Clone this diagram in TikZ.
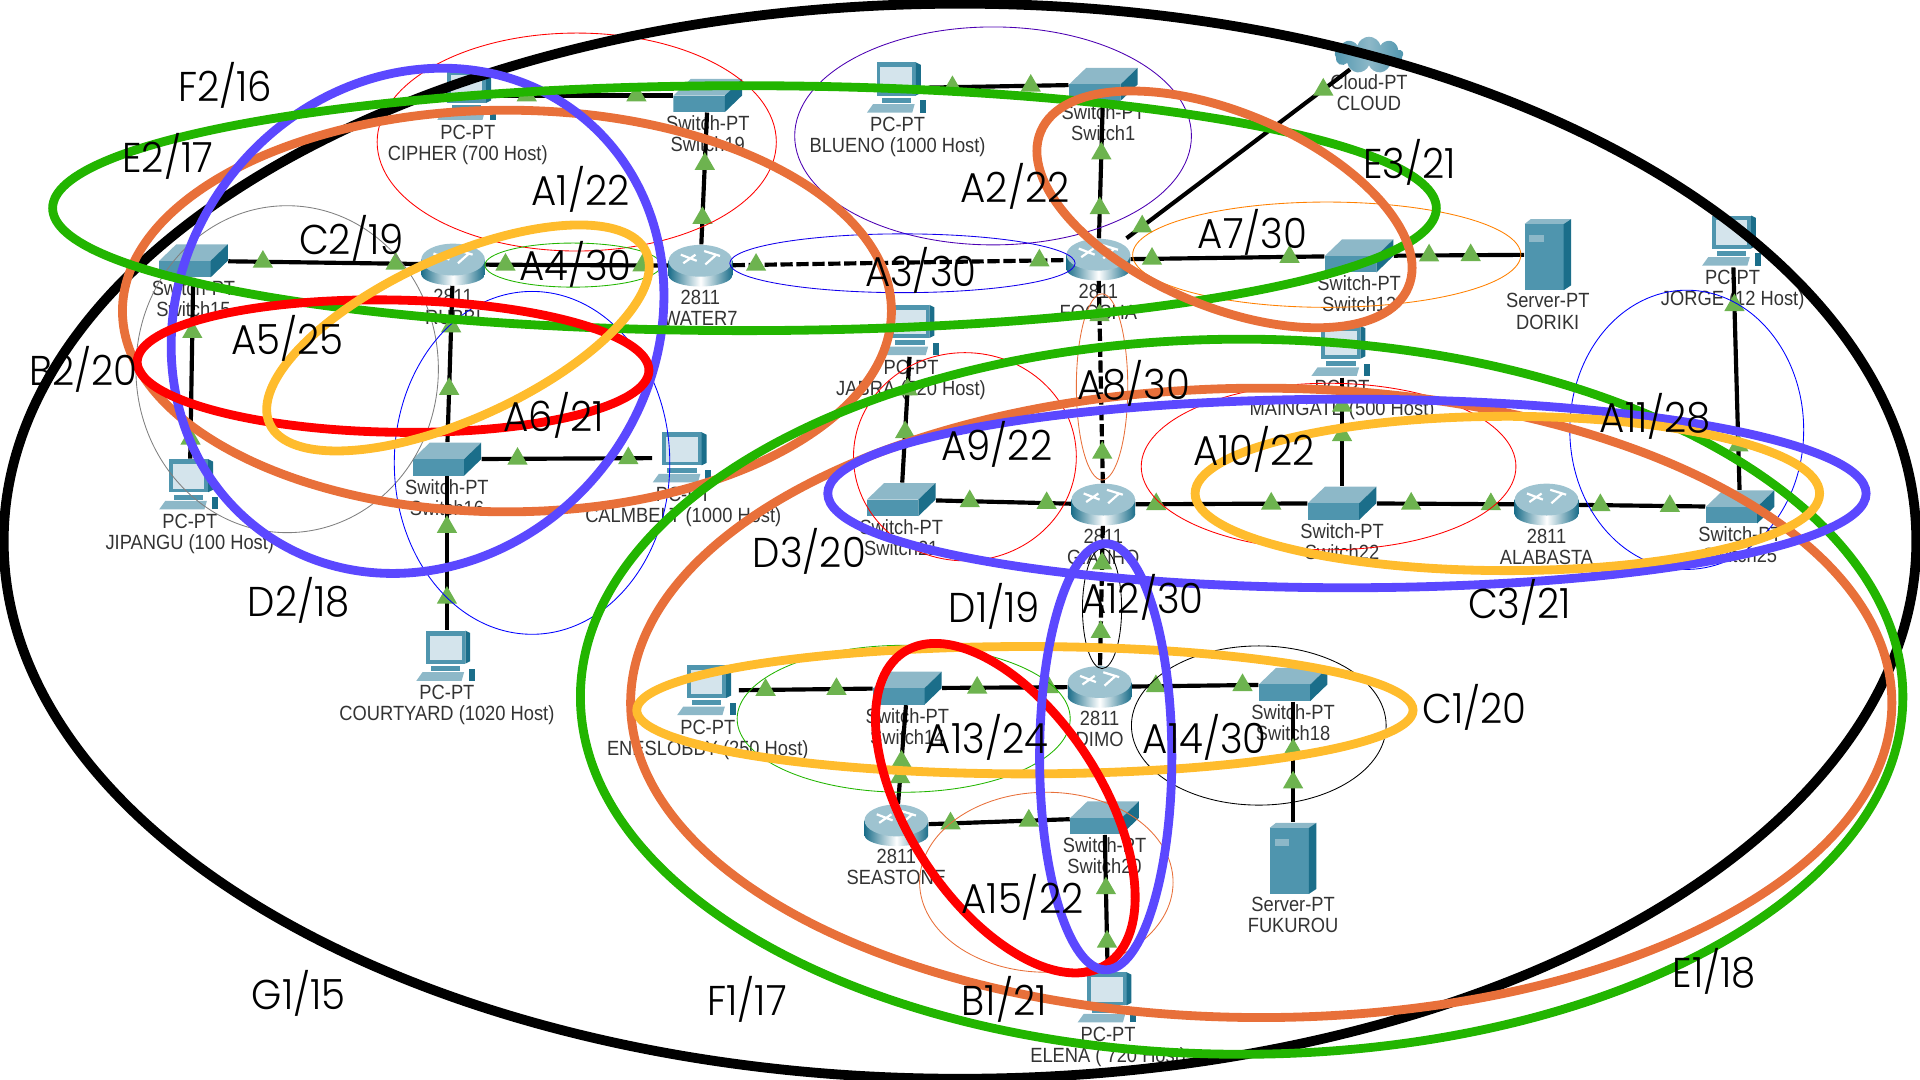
\documentclass[tikz,border=0pt]{standalone}
\usepackage{fontspec}
\setmainfont{Liberation Sans}[FakeStretch=0.89]
\newfontfamily\tagfont{Poppins Light}[FakeStretch=0.93]
\usetikzlibrary{shapes, positioning}

\definecolor{ovgreen}{HTML}{22B500}
\definecolor{ovorange}{HTML}{E8703A}
\definecolor{ovblue}{HTML}{5B48FF}
\definecolor{ovyellow}{HTML}{FFBC2D}
\definecolor{tealfront}{HTML}{4F95AE}
\definecolor{tealtop}{HTML}{8DB8C8}
\definecolor{tealside}{HTML}{1B6E8A}
\definecolor{screenblue}{HTML}{D4E4EC}
\definecolor{trigreen}{HTML}{6DB34F}

\begin{document}
\begin{tikzpicture}[
		x=.5pt, y=-.5pt,
		routerbox/.style={minimum width=26pt, minimum height=17pt, inner sep=0pt, path picture={
			\begin{scope}[shift={(path picture bounding box.center)}]
			\shade[left color=tealside, right color=tealside, middle color=white] (-26,-4) rectangle (26,8);
			\shade[left color=tealside, right color=tealside, middle color=white] (0,8) ellipse (26 and 9);
			\fill[tealtop!85!white] (0,-4) ellipse (26 and 13);
			\draw[white, line width=.9pt] (-16,-9) -- (-3,-4) (3,-12) -- (16,-8) (-14,-2) -- (-4,-9) (4,-1) -- (13,-9);
			\end{scope}}},
		switchbox/.style={minimum width=28pt, minimum height=13.5pt, inner sep=0pt, path picture={
			\begin{scope}[shift={(path picture bounding box.center)}]
			\fill[tealtop] (-28,0) -- (-14,-13.5) -- (28,-13.5) -- (14,0) -- cycle;
			\fill[tealfront] (-28,0) rectangle (14,13.5);
			\fill[tealside] (14,0) -- (28,-13.5) -- (28,0) -- (14,13.5) -- cycle;
			\end{scope}}},
		pcbox/.style={minimum width=25pt, minimum height=21pt, inner sep=0pt, path picture={
			\begin{scope}[shift={(path picture bounding box.center)}]
			\fill[tealfront] (-17,-21) rectangle (15,6);
			\fill[tealside] (15,-21) -- (19,-19) -- (19,4) -- (15,6) -- cycle;
			\fill[screenblue] (-14,-17) rectangle (12,3);
			\fill[tealfront] (-13,8) rectangle (11,12);
			\fill[tealtop] (-20,13) -- (14,13) -- (12,20) -- (-25,20) -- cycle;
			\fill[tealside] (18,10) rectangle (23,20);
			\end{scope}}},
		serverbox/.style={minimum width=19pt, minimum height=29pt, inner sep=0pt, path picture={
			\begin{scope}[shift={(path picture bounding box.center)}]
			\fill[tealtop] (-19,-25) -- (-14,-29) -- (19,-29) -- (13,-25) -- cycle;
			\fill[tealfront] (-19,-25) rectangle (13,29);
			\fill[tealside] (13,-25) -- (19,-29) -- (19,25) -- (13,29) -- cycle;
			\fill[tealtop] (-15,-16) rectangle (-3,-10);
			\end{scope}}},
		cloudbox/.style={cloud, cloud puffs=9, aspect=1.9, inner sep=0pt, minimum width=28pt, minimum height=15pt, left color=tealfront, right color=tealfront, middle color=tealtop},
		devlbl/.style={font=\fontsize{8.4}{8.6}\selectfont, text=black!80, align=center, inner sep=0pt},
		tag/.style={font=\tagfont\fontsize{17}{20}\selectfont, inner sep=0pt},
		link/.style={line width=1.7pt},
		tunnel/.style={line width=1.7pt, dash pattern=on 5pt off 1.5pt},
		tri/.style={regular polygon, regular polygon sides=3, fill=trigreen, minimum size=9.6pt, inner sep=0pt},
		bigoval/.style={line width=3.6pt},
		thinoval/.style={line width=.35pt}
		]
		
		\useasboundingbox (0,0) rectangle (1568,882);
		
		% devices
		\node[routerbox] (rubbi) at (370,216) {};
		\node[routerbox] (water7) at (572,217) {};
		\node[routerbox] (foosha) at (897,212) {};
		\node[routerbox] (gianho) at (901,412) {};
		\node[routerbox] (alabasta) at (1263,412) {};
		\node[routerbox] (dimo) at (898,561) {};
		\node[routerbox] (seastone) at (732,674) {};
		\node[switchbox] (sw15) at (158,213) {};
		\node[switchbox] (sw19) at (578,78) {};
		\node[switchbox] (sw1) at (901,69) {};
		\node[switchbox] (sw12) at (1110,209) {};
		\node[switchbox] (sw16) at (365,375) {};
		\node[switchbox] (sw21) at (736,408) {};
		\node[switchbox] (sw22) at (1096,411) {};
		\node[switchbox] (sw25) at (1421,414) {};
		\node[switchbox] (sw14) at (741,562) {};
		\node[switchbox] (sw18) at (1056,559) {};
		\node[switchbox] (sw20) at (902,668) {};
		\node[pcbox] (cipher) at (382,78) {};
		\node[pcbox] (blueno) at (733,72) {};
		\node[pcbox] (jipangu) at (155,396) {};
		\node[pcbox] (calmbelt) at (558,374) {};
		\node[pcbox] (courtyard) at (365,536) {};
		\node[pcbox] (jabra) at (744,270) {};
		\node[pcbox] (maingate) at (1096,287) {};
		\node[pcbox] (jorge) at (1415,197) {};
		\node[pcbox] (eneslobby) at (578,564) {};
		\node[pcbox] (elena) at (905,815) {};
		\node[serverbox] (doriki) at (1264,208) {};
		\node[serverbox] (fukurou) at (1056,701) {};
		\node[cloudbox] (cloudnet) at (1118,45) {};
		
		% device labels
		\node[devlbl, below=1pt of rubbi] (rubbitxt) {2811\\RUBBI};
		\node[devlbl, below=1pt of water7] (water7txt) {2811\\WATER7};
		\node[devlbl, below=1pt of foosha] (fooshatxt) {2811\\FOOSHA};
		\node[devlbl, below=1pt of gianho] (gianhotxt) {2811\\GIANHO};
		\node[devlbl, below=1pt of alabasta] (alabastatxt) {2811\\ALABASTA};
		\node[devlbl, below=1pt of dimo] (dimotxt) {2811\\DIMO};
		\node[devlbl, below=1pt of seastone] (seastonetxt) {2811\\SEASTONE};
		\node[devlbl, below=1pt of sw15] (sw15txt) {Switch-PT\\Switch15};
		\node[devlbl, below=1pt of sw19] (sw19txt) {Switch-PT\\Switch19};
		\node[devlbl, below=1pt of sw1] (sw1txt) {Switch-PT\\Switch1};
		\node[devlbl, below=1pt of sw12] (sw12txt) {Switch-PT\\Switch12};
		\node[devlbl, below=1pt of sw16] (sw16txt) {Switch-PT\\Switch16};
		\node[devlbl, below=1pt of sw21] (sw21txt) {Switch-PT\\Switch21};
		\node[devlbl, below=1pt of sw22] (sw22txt) {Switch-PT\\Switch22};
		\node[devlbl, below=1pt of sw25] (sw25txt) {Switch-PT\\Switch25};
		\node[devlbl, below=1pt of sw14] (sw14txt) {Switch-PT\\Switch14};
		\node[devlbl, below=1pt of sw18] (sw18txt) {Switch-PT\\Switch18};
		\node[devlbl, below=1pt of sw20] (sw20txt) {Switch-PT\\Switch20};
		\node[devlbl, below=1pt of cipher] (ciphertxt) {PC-PT\\CIPHER (700 Host)};
		\node[devlbl, below=1pt of blueno] (bluenotxt) {PC-PT\\BLUENO (1000 Host)};
		\node[devlbl, below=1pt of jipangu] (jipangutxt) {PC-PT\\JIPANGU (100 Host)};
		\node[devlbl, below=1pt of calmbelt] (calmbelttxt) {PC-PT\\CALMBELT (1000 Host)};
		\node[devlbl, below=1pt of courtyard] (courtyardtxt) {PC-PT\\COURTYARD (1020 Host)};
		\node[devlbl, below=1pt of jabra] (jabratxt) {PC-PT\\JABRA (520 Host)};
		\node[devlbl, below=1pt of maingate] (maingatetxt) {PC-PT\\MAINGATE (500 Host)};
		\node[devlbl, below=1pt of jorge] (jorgetxt) {PC-PT\\JORGE (12 Host)};
		\node[devlbl, below=1pt of eneslobby] (eneslobbytxt) {PC-PT\\ENESLOBBY (250 Host)};
		\node[devlbl, below=1pt of elena] (elenatxt) {PC-PT\\ELENA ( 720 Host)};
		\node[devlbl, below=1pt of doriki] (dorikitxt) {Server-PT\\DORIKI};
		\node[devlbl, below=1pt of fukurou] (fukuroutxt) {Server-PT\\FUKUROU};
		\node[devlbl, below=3pt of cloudnet] (cloudtxt) {Cloud-PT\\CLOUD};
		
		% links
		\draw[link] (sw15) -- node[tri, pos=.18] (t1a) {} node[tri, pos=.87] (t1b) {} (rubbi);
		\draw[link] (rubbi) -- node[tri, pos=.11] (t2a) {} node[tri, pos=.86] (t2b) {} (water7);
		\draw[tunnel] (water7) -- node[tri, pos=.07] (t3a) {} node[tri, pos=.92] (t3b) {} (foosha);
		\draw[link] (water7) -- node[tri, pos=.20] (t4a) {} node[tri, pos=.61] (t4b) {} (sw19);
		\draw[link] (cipher) -- node[tri, pos=.16] (t5a) {} node[tri, pos=.79] (t5b) {} (sw19);
		\draw[link] (blueno) -- node[tri, pos=.17] (t6a) {} node[tri, pos=.73] (t6b) {} (sw1);
		\draw[link] (foosha) -- node[tri, pos=.22] (t7a) {} node[tri, pos=.62] (t7b) {} (sw1);
		\draw[link] (foosha) -- node[tri, pos=.07] (t8a) {} node[tri, pos=.88] (t8b) {} (cloudnet);
		\draw[link] (foosha) -- node[tri, pos=.11] (t9a) {} node[tri, pos=.82] (t9b) {} (sw12);
		\draw[link] (sw12) -- node[tri, pos=.27] (t10a) {} node[tri, pos=.59] (t10b) {} (doriki);
		\draw[link] (sw15) -- node[tri, pos=.30] (t11a) {} node[tri, pos=.89] (t11b) {} (jipangu);
		\draw[link] (rubbi) -- node[tri, pos=.26] (t12a) {} node[tri, pos=.66] (t12b) {} (sw16);
		\draw[link] (sw16) -- node[tri, pos=.21] (t13a) {} node[tri, pos=.86] (t13b) {} (calmbelt);
		\draw[link] (sw16) -- node[tri, pos=.33] (t14a) {} node[tri, pos=.79] (t14b) {} (courtyard);
		\draw[tunnel] (foosha) -- node[tri, pos=.17] (t15a) {} node[tri, pos=.85] (t15b) {} (gianho);
		\draw[link] (jabra) -- node[tri, pos=.26] (t16a) {} node[tri, pos=.60] (t16b) {} (sw21);
		\draw[link] (sw21) -- node[tri, pos=.25] (t17a) {} node[tri, pos=.82] (t17b) {} (gianho);
		\draw[link] (gianho) -- node[tri, pos=.12] (t18a) {} node[tri, pos=.79] (t18b) {} (sw22);
		\draw[link] (maingate) -- node[tri, pos=.26] (t19a) {} node[tri, pos=.53] (t19b) {} (sw22);
		\draw[link] (sw22) -- node[tri, pos=.25] (t20a) {} node[tri, pos=.83] (t20b) {} (alabasta);
		\draw[link] (alabasta) -- node[tri, pos=.17] (t21a) {} node[tri, pos=.72] (t21b) {} (sw25);
		\draw[link] (jorge) -- node[tri, pos=.17] (t22a) {} node[tri, pos=.80] (t22b) {} (sw25);
		\draw[tunnel] (gianho) -- node[tri, pos=.27] (t23a) {} node[tri, pos=.76] (t23b) {} (dimo);
		\draw[link] (eneslobby) -- node[tri, pos=.20] (t24a) {} node[tri, pos=.73] (t24b) {} (sw14);
		\draw[link] (sw14) -- node[tri, pos=.28] (t25a) {} node[tri, pos=.85] (t25b) {} (dimo);
		\draw[link] (dimo) -- node[tri, pos=.19] (t26a) {} node[tri, pos=.875] (t26b) {} (sw18);
		\draw[link] (sw14) -- node[tri, pos=.57] (t27a) {} node[tri, pos=.73] (t27b) {} (seastone);
		\draw[link] (seastone) -- node[tri, pos=.155] (t28a) {} node[tri, pos=.71] (t28b) {} (sw20);
		\draw[link] (sw20) -- node[tri, pos=.39] (t29a) {} node[tri, pos=.78] (t29b) {} (elena);
		\draw[link] (sw18) -- node[tri, pos=.40] (t30a) {} node[tri, pos=.67] (t30b) {} (fukurou);
		
		% subnet ovals
		\draw[thinoval, red] (471,116) ellipse (163 and 89);
		\draw[thinoval, violet!60!blue] (811,111) ellipse (162 and 89);
		\draw[thinoval, blue!85!violet] (737,215) ellipse (141 and 24);
		\draw[thinoval, ovgreen] (468,216.5) ellipse (72 and 18);
		\draw[thinoval, gray] (234.5,301.5) ellipse (123.5 and 133.5);
		\draw[thinoval, blue] (434.5,378) ellipse (112.5 and 140);
		\draw[thinoval, orange] (1083.5,208) ellipse (158.5 and 43);
		\draw[thinoval, ovorange] (900,316) ellipse (21 and 76);
		\draw[thinoval, red] (788,373) ellipse (91 and 85);
		\draw[thinoval, red] (1085,381) ellipse (153 and 68);
		\draw[thinoval, blue] (1377.5,351) ellipse (95.5 and 114);
		\draw[thinoval, black] (900,497) ellipse (16 and 49);
		\draw[thinoval, ovgreen] (738,587) ellipse (136 and 60);
		\draw[thinoval, black] (1028,592.5) ellipse (104 and 65);
		\draw[thinoval, ovorange] (854.5,720.5) ellipse (103.5 and 73.5);
		
		% summary ovals
		\draw[bigoval, line width=4pt, black] (784,442) ellipse (781 and 439);
		\draw[bigoval, ovorange] (414,254) ellipse (314 and 164);
		\draw[bigoval, ovblue, rotate around={52:(341,262)}] (341,262) ellipse (214 and 193);
		\draw[bigoval, ovgreen] (608,170) ellipse (565 and 100);
		\draw[bigoval, red, rotate around={-1:(321,299)}] (321,299) ellipse (209 and 54);
		\draw[bigoval, ovyellow, rotate around={24.5:(374,276)}] (374,276) ellipse (169 and 66);
		\draw[bigoval, ovorange, rotate around={-23:(1000,171)}] (1000,171) ellipse (163 and 79);
		\draw[bigoval, ovgreen] (1014,569) ellipse (540 and 292);
		\draw[bigoval, ovorange] (1030,574) ellipse (515 and 257);
		\draw[bigoval, ovblue] (1100,403) ellipse (424 and 77);
		\draw[bigoval, ovyellow] (1231,403) ellipse (255 and 63);
		\draw[bigoval, ovyellow] (837,580) ellipse (317 and 52);
		\draw[bigoval, red, rotate around={123:(821,660)}] (821,660) ellipse (152 and 79);
		\draw[bigoval, ovblue] (903,618) ellipse (54 and 174);
		
		% subnet tags
		\node[tag] (f2) at (184,70) {F2/16};
		\node[tag] (e2) at (137,128) {E2/17};
		\node[tag] (a1) at (474,155) {A1/22};
		\node[tag] (a2) at (829,152) {A2/22};
		\node[tag] (e3) at (1151,133) {E3/21};
		\node[tag] (c2) at (287,195) {C2/19};
		\node[tag] (a4) at (470,216) {A4/30};
		\node[tag] (a3) at (752,221) {A3/30};
		\node[tag] (a7) at (1023,190) {A7/30};
		\node[tag] (a5) at (235,276) {A5/25};
		\node[tag] (b2) at (68,302) {B2/20};
		\node[tag] (a6) at (452,339) {A6/21};
		\node[tag] (a8) at (926,313) {A8/30};
		\node[tag] (a11) at (1352,340) {A11/28};
		\node[tag] (a9) at (814,363) {A9/22};
		\node[tag] (a10) at (1024,367) {A10/22};
		\node[tag] (d3) at (661,450) {D3/20};
		\node[tag] (d2) at (244,490) {D2/18};
		\node[tag] (d1) at (812,495) {D1/19};
		\node[tag] (a12) at (933,488) {A12/30};
		\node[tag] (c3) at (1241,492) {C3/21};
		\node[tag] (c1) at (1204,578) {C1/20};
		\node[tag] (a13) at (806,602) {A13/24};
		\node[tag] (a14) at (984,602) {A14/30};
		\node[tag] (a15) at (835,733) {A15/22};
		\node[tag] (g1) at (244,811) {G1/15};
		\node[tag] (f1) at (610,816) {F1/17};
		\node[tag] (b1) at (820,816) {B1/21};
		\node[tag] (e1) at (1400,793) {E1/18};
		
\end{tikzpicture}
\end{document}
